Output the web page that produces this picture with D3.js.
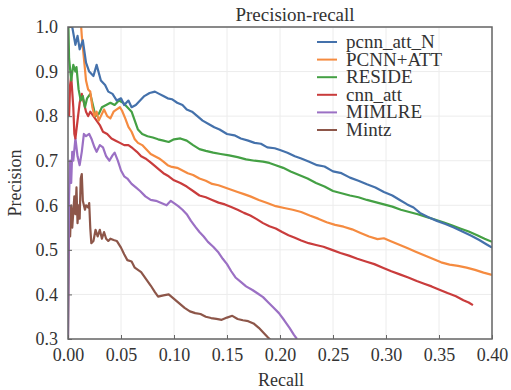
<!DOCTYPE html>
<html>
<head>
<meta charset="utf-8">
<script src="https://cdn.jsdelivr.net/npm/d3@7"></script>
<style>
  body { margin: 0; background: #fff; }
  text { font-family: "Liberation Serif", "DejaVu Serif", serif; fill: #333; }
</style>
</head>
<body>
<div id="chart"></div>
<script>
// Tick values
var xTicks = [0, 0.05, 0.1, 0.15, 0.2, 0.25, 0.3, 0.35, 0.4];
var yTicks = [0.3, 0.4, 0.5, 0.6, 0.7, 0.8, 0.9, 1.0];

// Series names, in legend order
var names = ["pcnn_att_N", "PCNN+ATT", "RESIDE", "cnn_att", "MIMLRE", "Mintz"];
var colors = ["#4471ab", "#f58b40", "#44a044", "#c93c3c", "#9b70c4", "#8d5649"];

// [recall, precision] pairs
var pcnnAttN = [
  [0.002, 1.05], [0.004, 1.0], [0.007, 0.96], [0.009, 0.98], [0.011, 0.95], [0.014, 0.97],
  [0.017, 0.92], [0.02, 0.9], [0.024, 0.89], [0.027, 0.915], [0.031, 0.88], [0.035, 0.87],
  [0.038, 0.855], [0.042, 0.85], [0.046, 0.835], [0.05, 0.84], [0.053, 0.825], [0.057, 0.835],
  [0.06, 0.82], [0.064, 0.825], [0.068, 0.835], [0.072, 0.845], [0.077, 0.852], [0.082, 0.855],
  [0.086, 0.85], [0.09, 0.845], [0.094, 0.84], [0.098, 0.838], [0.103, 0.83], [0.108, 0.825],
  [0.112, 0.815], [0.117, 0.81], [0.122, 0.8], [0.127, 0.79], [0.133, 0.782], [0.138, 0.775],
  [0.143, 0.77], [0.15, 0.76], [0.157, 0.757], [0.163, 0.75], [0.17, 0.745], [0.176, 0.74],
  [0.182, 0.738], [0.188, 0.73], [0.195, 0.728], [0.2, 0.724], [0.207, 0.718], [0.214, 0.71],
  [0.22, 0.705], [0.227, 0.698], [0.235, 0.69], [0.242, 0.687], [0.25, 0.676], [0.258, 0.672],
  [0.266, 0.662], [0.274, 0.655], [0.282, 0.647], [0.29, 0.64], [0.298, 0.63], [0.306, 0.622],
  [0.313, 0.612], [0.32, 0.602], [0.326, 0.595], [0.332, 0.583], [0.34, 0.573], [0.348, 0.565],
  [0.356, 0.558], [0.364, 0.55], [0.372, 0.541], [0.38, 0.532], [0.388, 0.522], [0.395, 0.512],
  [0.4, 0.505]
];

var pcnnAtt = [
  [0.011, 1.05], [0.013, 0.98], [0.015, 0.93], [0.017, 0.88], [0.019, 0.86], [0.021, 0.855],
  [0.023, 0.82], [0.025, 0.8], [0.027, 0.81], [0.029, 0.79], [0.031, 0.8], [0.034, 0.815],
  [0.037, 0.8], [0.04, 0.795], [0.043, 0.81], [0.046, 0.815], [0.049, 0.82], [0.051, 0.812],
  [0.054, 0.795], [0.057, 0.776], [0.06, 0.765], [0.063, 0.748], [0.066, 0.74], [0.07, 0.735],
  [0.074, 0.725], [0.078, 0.715], [0.082, 0.71], [0.086, 0.705], [0.09, 0.698], [0.094, 0.69],
  [0.098, 0.686], [0.103, 0.684], [0.108, 0.678], [0.113, 0.672], [0.118, 0.668], [0.124, 0.66],
  [0.13, 0.655], [0.136, 0.648], [0.142, 0.645], [0.148, 0.64], [0.154, 0.635], [0.16, 0.63],
  [0.166, 0.625], [0.172, 0.62], [0.18, 0.612], [0.188, 0.605], [0.196, 0.598], [0.204, 0.594],
  [0.212, 0.59], [0.22, 0.585], [0.228, 0.577], [0.236, 0.57], [0.244, 0.562], [0.252, 0.556],
  [0.26, 0.552], [0.268, 0.546], [0.276, 0.538], [0.284, 0.53], [0.292, 0.524], [0.298, 0.526],
  [0.304, 0.52], [0.312, 0.512], [0.32, 0.504], [0.328, 0.496], [0.336, 0.488], [0.344, 0.48],
  [0.352, 0.472], [0.36, 0.467], [0.368, 0.464], [0.376, 0.46], [0.384, 0.455], [0.392, 0.449],
  [0.4, 0.444]
];

var reside = [
  [0.0, 1.05], [0.001, 0.93], [0.003, 0.88], [0.005, 0.915], [0.007, 0.9], [0.008, 0.91],
  [0.01, 0.86], [0.012, 0.835], [0.014, 0.845], [0.016, 0.82], [0.018, 0.84], [0.021, 0.85],
  [0.024, 0.82], [0.026, 0.8], [0.029, 0.805], [0.032, 0.82], [0.036, 0.825], [0.04, 0.83],
  [0.044, 0.825], [0.048, 0.835], [0.052, 0.83], [0.056, 0.82], [0.06, 0.81], [0.063, 0.79],
  [0.066, 0.77], [0.07, 0.76], [0.075, 0.755], [0.08, 0.752], [0.085, 0.748], [0.09, 0.745],
  [0.095, 0.742], [0.1, 0.748], [0.106, 0.75], [0.112, 0.745], [0.118, 0.735], [0.124, 0.726],
  [0.13, 0.722], [0.137, 0.718], [0.144, 0.715], [0.152, 0.712], [0.16, 0.708], [0.168, 0.703],
  [0.176, 0.7], [0.184, 0.698], [0.19, 0.695], [0.196, 0.69], [0.203, 0.684], [0.21, 0.676],
  [0.218, 0.668], [0.226, 0.66], [0.234, 0.65], [0.242, 0.642], [0.25, 0.632], [0.258, 0.627],
  [0.266, 0.622], [0.274, 0.618], [0.282, 0.612], [0.29, 0.607], [0.298, 0.602], [0.306, 0.597],
  [0.314, 0.59], [0.322, 0.585], [0.33, 0.58], [0.338, 0.574], [0.346, 0.568], [0.354, 0.562],
  [0.362, 0.555], [0.37, 0.548], [0.378, 0.541], [0.386, 0.533], [0.393, 0.525], [0.4, 0.518]
];

var cnnAtt = [
  [0.001, 0.8], [0.002, 0.87], [0.003, 0.89], [0.005, 0.82], [0.006, 0.76], [0.007, 0.75],
  [0.009, 0.79], [0.011, 0.83], [0.013, 0.85], [0.015, 0.83], [0.017, 0.81], [0.019, 0.8],
  [0.021, 0.81], [0.024, 0.8], [0.027, 0.79], [0.03, 0.78], [0.033, 0.765], [0.037, 0.76],
  [0.041, 0.75], [0.045, 0.745], [0.049, 0.74], [0.053, 0.735], [0.057, 0.735], [0.061, 0.728],
  [0.065, 0.72], [0.069, 0.71], [0.073, 0.705], [0.077, 0.698], [0.081, 0.69], [0.086, 0.68],
  [0.09, 0.672], [0.095, 0.665], [0.1, 0.656], [0.106, 0.65], [0.112, 0.642], [0.118, 0.632],
  [0.124, 0.622], [0.13, 0.618], [0.136, 0.612], [0.142, 0.606], [0.148, 0.602], [0.154, 0.596],
  [0.16, 0.59], [0.166, 0.583], [0.172, 0.577], [0.178, 0.569], [0.184, 0.56], [0.19, 0.553],
  [0.196, 0.548], [0.202, 0.54], [0.208, 0.533], [0.214, 0.527], [0.22, 0.521], [0.227, 0.515],
  [0.234, 0.511], [0.241, 0.507], [0.249, 0.5], [0.257, 0.493], [0.265, 0.487], [0.273, 0.48],
  [0.281, 0.474], [0.289, 0.468], [0.297, 0.46], [0.305, 0.452], [0.313, 0.445], [0.321, 0.438],
  [0.329, 0.43], [0.336, 0.424], [0.343, 0.418], [0.351, 0.41], [0.358, 0.403], [0.366, 0.396],
  [0.373, 0.387], [0.378, 0.382], [0.382, 0.376]
];

var mimlre = [
  [0.0, 0.3], [0.001, 0.62], [0.002, 0.7], [0.003, 0.65], [0.004, 0.72], [0.005, 0.7],
  [0.007, 0.75], [0.009, 0.71], [0.011, 0.69], [0.013, 0.72], [0.015, 0.76], [0.017, 0.755],
  [0.02, 0.76], [0.022, 0.75], [0.025, 0.73], [0.027, 0.72], [0.03, 0.735], [0.033, 0.73],
  [0.036, 0.71], [0.039, 0.7], [0.042, 0.712], [0.044, 0.718], [0.047, 0.7], [0.05, 0.678],
  [0.053, 0.665], [0.056, 0.66], [0.06, 0.648], [0.064, 0.64], [0.068, 0.632], [0.073, 0.62],
  [0.078, 0.612], [0.083, 0.61], [0.088, 0.605], [0.093, 0.6], [0.097, 0.61], [0.1, 0.605],
  [0.104, 0.598], [0.108, 0.59], [0.112, 0.58], [0.116, 0.565], [0.12, 0.552], [0.124, 0.54],
  [0.128, 0.53], [0.132, 0.518], [0.137, 0.507], [0.142, 0.494], [0.146, 0.48], [0.15, 0.468],
  [0.154, 0.452], [0.158, 0.438], [0.163, 0.428], [0.168, 0.418], [0.174, 0.41], [0.179, 0.402],
  [0.184, 0.394], [0.189, 0.382], [0.194, 0.37], [0.199, 0.358], [0.204, 0.342], [0.209, 0.325],
  [0.213, 0.31], [0.216, 0.3]
];

var mintz = [
  [0.0, 0.3], [0.001, 0.58], [0.002, 0.53], [0.003, 0.6], [0.004, 0.55], [0.006, 0.62],
  [0.007, 0.58], [0.008, 0.64], [0.009, 0.56], [0.01, 0.6], [0.011, 0.57], [0.012, 0.66],
  [0.013, 0.67], [0.014, 0.61], [0.016, 0.59], [0.017, 0.6], [0.019, 0.595], [0.02, 0.605],
  [0.021, 0.55], [0.022, 0.515], [0.024, 0.52], [0.026, 0.545], [0.028, 0.53], [0.03, 0.545],
  [0.032, 0.525], [0.034, 0.54], [0.036, 0.525], [0.038, 0.52], [0.04, 0.525], [0.043, 0.522],
  [0.046, 0.52], [0.05, 0.505], [0.053, 0.49], [0.056, 0.477], [0.06, 0.474], [0.063, 0.46],
  [0.066, 0.455], [0.069, 0.45], [0.072, 0.44], [0.075, 0.43], [0.078, 0.42], [0.082, 0.405],
  [0.085, 0.395], [0.09, 0.398], [0.095, 0.4], [0.1, 0.39], [0.105, 0.38], [0.11, 0.37],
  [0.115, 0.362], [0.12, 0.358], [0.125, 0.356], [0.13, 0.35], [0.135, 0.347], [0.14, 0.345],
  [0.145, 0.343], [0.15, 0.348], [0.155, 0.352], [0.16, 0.345], [0.165, 0.342], [0.17, 0.34],
  [0.175, 0.335], [0.18, 0.325], [0.184, 0.315], [0.188, 0.305], [0.191, 0.298]
];

var series = [pcnnAttN, pcnnAtt, reside, cnnAtt, mimlre, mintz];

// Chart size and plot box
var w = 511;
var h = 390;
var plotLeft = 68, plotRight = 492, plotTop = 27, plotBottom = 339;

var svg = d3
  .select("#chart")
  .append("svg")
  .attr("width", w)
  .attr("height", h);

// Scales
var xScale = d3.scaleLinear().domain([0, 0.4]).range([plotLeft, plotRight]);
var yScale = d3.scaleLinear().domain([0.3, 1.0]).range([plotBottom, plotTop]);

// Grid lines
svg
  .append("g")
  .selectAll("line")
  .data(xTicks)
  .enter()
  .append("line")
  .attr("x1", function (d) { return xScale(d); })
  .attr("x2", function (d) { return xScale(d); })
  .attr("y1", plotTop)
  .attr("y2", plotBottom)
  .attr("stroke", "#ececec");

svg
  .append("g")
  .selectAll("line")
  .data(yTicks)
  .enter()
  .append("line")
  .attr("x1", plotLeft)
  .attr("x2", plotRight)
  .attr("y1", function (d) { return yScale(d); })
  .attr("y2", function (d) { return yScale(d); })
  .attr("stroke", "#ececec");

// Clip the curves to the plot box
svg
  .append("clipPath")
  .attr("id", "plotclip")
  .append("rect")
  .attr("x", plotLeft)
  .attr("y", plotTop)
  .attr("width", plotRight - plotLeft)
  .attr("height", plotBottom - plotTop);

var line = d3
  .line()
  .x(function (d) { return xScale(d[0]); })
  .y(function (d) { return yScale(d[1]); });

// Draw from the last series so the first ones sit on top
svg
  .append("g")
  .attr("clip-path", "url(#plotclip)")
  .selectAll("path")
  .data(series.map(function (s, i) { return { pts: s, i: i }; }).reverse())
  .enter()
  .append("path")
  .attr("fill", "none")
  .attr("stroke", function (d) { return colors[d.i]; })
  .attr("stroke-width", 2.2)
  .attr("stroke-linejoin", "round")
  .attr("d", function (d) { return line(d.pts); });

// Axes with inward ticks
var xAxis = svg
  .append("g")
  .attr("transform", "translate(0," + plotBottom + ")")
  .call(
    d3.axisBottom(xScale).tickValues(xTicks).tickSizeInner(-4).tickSizeOuter(0).tickPadding(9)
      .tickFormat(d3.format(".2f"))
  );

var yAxis = svg
  .append("g")
  .attr("transform", "translate(" + plotLeft + ",0)")
  .call(
    d3.axisLeft(yScale).tickValues(yTicks).tickSizeInner(-4).tickSizeOuter(0).tickPadding(10)
      .tickFormat(d3.format(".1f"))
  );

[xAxis, yAxis].forEach(function (g) {
  g.select(".domain").remove();
  g.selectAll("line").attr("stroke", "#666");
  g.selectAll("text")
    .style("font-size", "18px")
    .style("font-family", "'Liberation Serif', serif")
    .attr("fill", "#333");
});

// Frame
svg
  .append("rect")
  .attr("x", plotLeft)
  .attr("y", plotTop)
  .attr("width", plotRight - plotLeft)
  .attr("height", plotBottom - plotTop)
  .attr("fill", "none")
  .attr("stroke", "#666")
  .attr("stroke-width", 1.5);

// Title and axis labels
svg
  .append("text")
  .attr("x", 295)
  .attr("y", 21)
  .attr("text-anchor", "middle")
  .style("font-size", "19px")
  .text("Precision-recall");

svg
  .append("text")
  .attr("x", 281)
  .attr("y", 386)
  .attr("text-anchor", "middle")
  .style("font-size", "18px")
  .text("Recall");

svg
  .append("text")
  .attr("transform", "translate(21," + (plotTop + plotBottom) / 2 + ") rotate(-90)")
  .attr("text-anchor", "middle")
  .style("font-size", "18px")
  .text("Precision");

// Legend
var legend = svg
  .append("g")
  .selectAll("g")
  .data(names)
  .enter()
  .append("g")
  .attr("transform", function (d, i) { return "translate(317," + (42 + i * 17.6) + ")"; });

legend
  .append("line")
  .attr("x1", 0)
  .attr("x2", 20)
  .attr("stroke", function (d, i) { return colors[i]; })
  .attr("stroke-width", 2);

legend
  .append("text")
  .attr("x", 29)
  .attr("y", 6)
  .style("font-size", "19px")
  .text(function (d) { return d; });
</script>
</body>
</html>
